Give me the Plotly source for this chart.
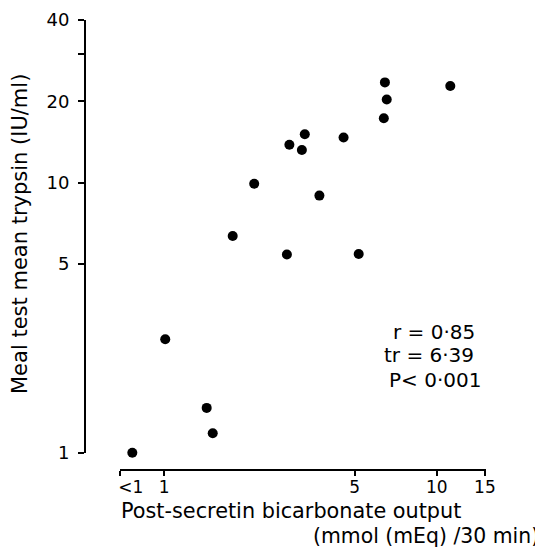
import math
import plotly.graph_objects as go

# Data (x: post-secretin bicarbonate output, y: meal test mean trypsin)
bicarbonate = [6.45, 11.2, 6.55, 6.39, 3.28, 4.55, 2.88, 3.20, 2.14, 3.71,
               1.785, 2.82, 5.17, 1.433, 1.508, 0.765, 1.01]
trypsin = [23.5, 22.8, 20.3, 17.3, 15.1, 14.7, 13.8, 13.2, 9.9, 8.95,
           6.34, 5.42, 5.44, 1.465, 1.18, 1.0, 2.63]

x_tickvals = [0.69, 1, 5, 10, 15]
x_ticktext = ["\u00a0\u00a0\u00a0\u00a0<1", "1", "5", "10", "15"]
y_tickvals = [1, 5, 10, 20, 30, 40]
y_ticktext = ["1", "5", "10", "20", "", "40"]

stats_lines = ["r = 0·85", "tr = 6·39", "P< 0·001"]

FONT = "DejaVu Sans"

fig = go.Figure()
fig.add_trace(go.Scatter(
    x=bicarbonate, y=trypsin, mode="markers",
    marker=dict(color="black", size=10),
    cliponaxis=False, showlegend=False,
))

# page body has an 8px margin, so the figure is drawn 8px smaller and offset
OFF = 8
W, H = 543 - OFF, 548 - OFF
ml, mr, mt, mb = 85 - OFF, 543 - 486, 20 - OFF, 548 - 470
pw, ph = W - ml - mr, H - mt - mb


def px(xp):
    return (xp - OFF - ml) / pw


def py(yp):
    return (H - mb - (yp - OFF)) / ph


fig.update_layout(
    width=W, height=H,
    margin=dict(l=ml, r=mr, t=mt, b=mb, pad=0, autoexpand=False),
    paper_bgcolor="white", plot_bgcolor="white",
    font=dict(family=FONT, size=18, color="black"),
    xaxis=dict(
        type="log", range=[-0.1615, 1.1801], domain=[px(120), 1],
        anchor="free", position=0, automargin=False,
        showgrid=False, zeroline=False,
        showline=True, linecolor="black", linewidth=2,
        ticks="outside", ticklen=5, tickwidth=2, tickcolor="black",
        tickvals=x_tickvals, ticktext=x_ticktext,
        tickfont=dict(family=FONT, size=17, color="black"),
        ticklabelstandoff=-3,
    ),
    yaxis=dict(
        type="log", range=[0, math.log10(40)], domain=[py(452.7), 1],
        anchor="free", position=0, automargin=False,
        showgrid=False, zeroline=False,
        showline=True, linecolor="black", linewidth=2,
        ticks="outside", ticklen=6, tickwidth=2, tickcolor="black",
        tickvals=y_tickvals, ticktext=y_ticktext,
        tickfont=dict(family=FONT, size=18, color="black"),
        ticklabelstandoff=5,
    ),
)

ann = []
ann.append(dict(text="Post-secretin bicarbonate output", x=px(119), y=py(511),
                xref="paper", yref="paper", xanchor="left", yanchor="middle",
                showarrow=False, font=dict(family=FONT, size=20.8)))
ann.append(dict(text="(mmol (mEq) /30 min)", x=px(541), y=py(536),
                xref="paper", yref="paper", xanchor="right", yanchor="middle",
                showarrow=False, font=dict(family=FONT, size=20.4)))
ann.append(dict(text="Meal test mean trypsin (IU/ml)", x=px(20), y=py(234),
                xref="paper", yref="paper", xanchor="center", yanchor="middle",
                textangle=-90, showarrow=False, font=dict(family=FONT, size=21)))
for line, cx, cy in zip(stats_lines, [434, 428.5, 435], [331.7, 355, 380]):
    ann.append(dict(text=line, x=px(cx), y=py(cy), xref="paper", yref="paper",
                    xanchor="center", yanchor="middle", showarrow=False,
                    font=dict(family=FONT, size=20)))
fig.update_layout(annotations=ann)

fig.write_html("out.html")
